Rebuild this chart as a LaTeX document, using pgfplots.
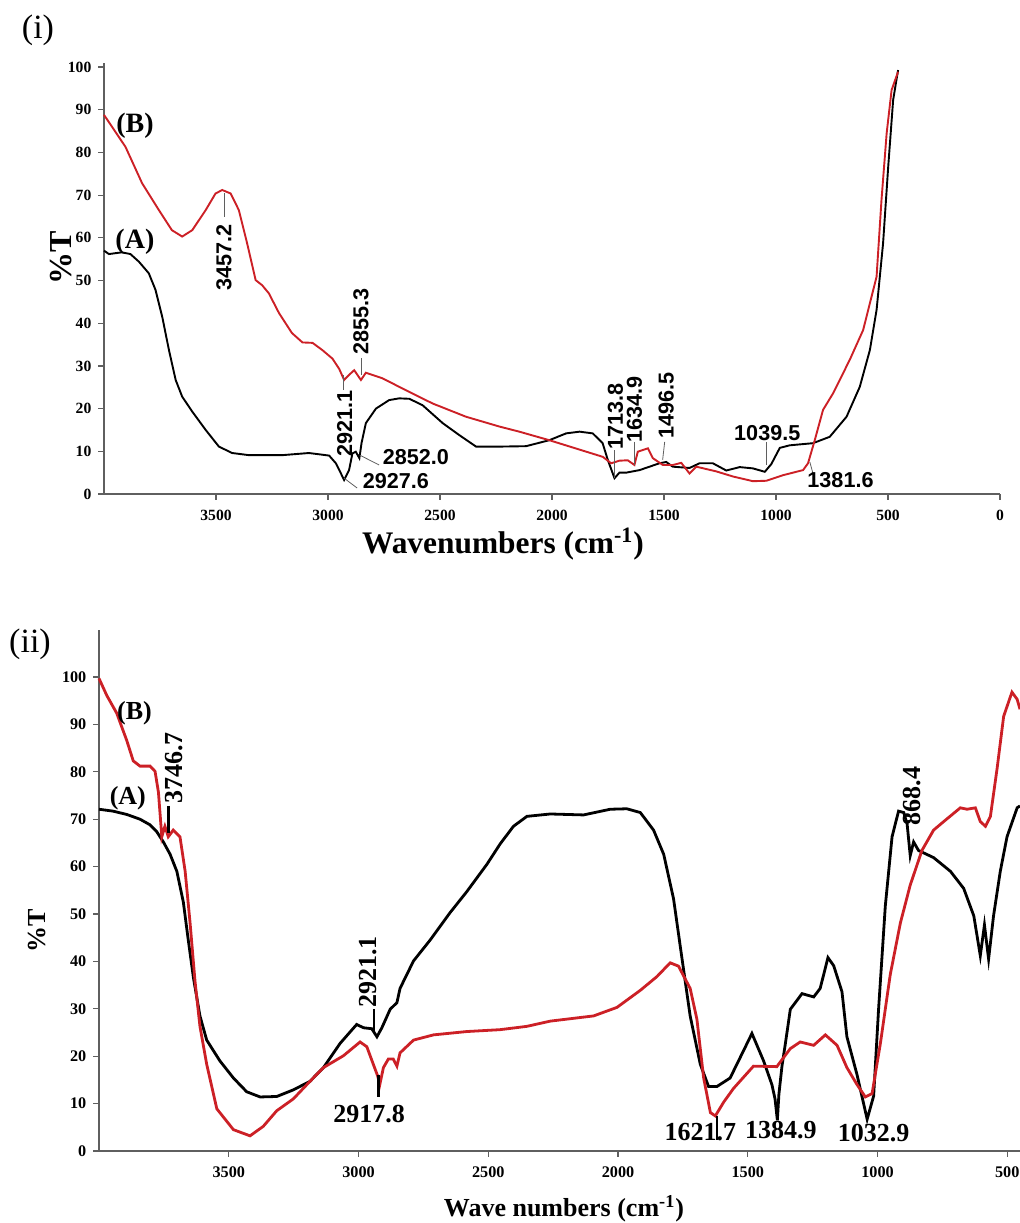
\documentclass[border=0pt]{standalone}
\usepackage{pgfplots}
\pgfplotsset{compat=1.18}
\usepackage{fontspec}
\setmainfont{Liberation Serif}
\newfontfamily\arialfont{Liberation Sans}
\definecolor{specred}{RGB}{204,32,38}
\definecolor{axisgray}{RGB}{95,95,95}

% spectra are plotted at -wavenumber so that the axis runs 4000 -> 0
\pgfplotsset{
  ftir/.style={
    scale only axis,
    axis lines=left,
    axis line style={-, axisgray, line width=0.7pt},
    tick style={axisgray, line width=0.6pt},
    tick align=outside,
    major tick length=2.8pt,
    x filter/.expression={-x},
    ymin=0, ytick={0,10,...,100},
    /pgf/number format/assume math mode=true,
    clip=false,
  },
}
\newcommand\annA{\arialfont\bfseries\fontsize{10.8}{12}\selectfont}
\newcommand\annB{\bfseries\fontsize{13}{15}\selectfont}

\begin{document}
\begin{tikzpicture}
\useasboundingbox (0,0) rectangle (510pt,611.5pt);

% ---------------- panel (i) ----------------
\begin{axis}[ftir,
  at={(52pt,364.5pt)}, anchor=south west,
  width=448pt, height=215.6pt,
  xmin=-4000, xmax=0, ymax=101,
  xtick={-3500,-3000,...,0},
  xticklabels={3500,3000,2500,2000,1500,1000,500,0},
  tick label style={font=\bfseries\fontsize{7.8}{9}\selectfont},
  xticklabel style={yshift=-1.5pt},
]
% (A) black
\addplot[black, line width=0.95pt] coordinates {
(4000,57.0)(3978,56.2)(3950,56.4)(3920,56.6)(3882,56.2)(3844,54.4)(3800,51.7)
(3770,47.8)(3740,41.5)(3710,33.7)(3680,26.7)(3651,22.8)(3606,19.3)(3546,15.0)
(3487,11.1)(3428,9.6)(3353,9.1)(3204,9.1)(3085,9.6)(2995,9.0)(2965,7.2)(2928,3.3)
(2906,5.6)(2891,9.5)(2876,9.9)(2860,8.4)(2850,12.0)(2831,16.6)(2786,20.0)
(2727,22.0)(2682,22.4)(2637,22.3)(2578,20.8)(2488,16.6)(2414,13.8)(2339,11.1)
(2235,11.1)(2116,11.2)(2012,12.6)(1937,14.2)(1877,14.6)(1818,14.2)(1774,11.9)
(1751,8.0)(1721,3.7)(1699,5.0)(1669,5.0)(1609,5.6)(1520,7.2)(1490,7.5)(1461,6.4)
(1386,6.1)(1341,7.2)(1282,7.2)(1222,5.5)(1162,6.3)(1103,6.0)(1050,5.2)(1021,7.0)
(983,10.8)(939,11.4)(835,11.9)(760,13.4)(685,18.1)(626,25.1)(581,33.7)(551,43.1)
(522,58.7)(499,76.7)(477,92.3)(455,99.3)
};
% (B) red
\addplot[specred, line width=0.95pt] coordinates {
(4000,88.8)(3964,86.0)(3904,81.3)(3830,72.8)(3755,66.5)(3697,61.8)(3651,60.3)
(3606,61.8)(3546,66.5)(3502,70.4)(3472,71.2)(3435,70.4)(3398,66.5)(3361,58.7)
(3323,50.1)(3294,48.9)(3264,47.0)(3219,42.4)(3161,37.7)(3114,35.5)(3069,35.4)
(3025,33.7)(2980,31.7)(2950,29.3)(2928,26.7)(2906,27.9)(2883,29.0)(2853,26.7)
(2831,28.4)(2757,27.1)(2682,25.1)(2533,21.2)(2384,18.1)(2235,15.8)(2146,14.6)
(2012,12.6)(1773,8.7)(1736,7.2)(1699,7.8)(1662,7.9)(1632,6.8)(1617,9.9)(1572,10.7)
(1550,8.4)(1505,6.8)(1460,6.8)(1423,7.3)(1386,4.8)(1356,6.4)(1267,5.3)(1192,4.1)
(1103,3.0)(1043,3.1)(969,4.4)(879,5.6)(857,7.2)(827,12.6)(790,19.7)(745,23.6)
(671,31.4)(611,38.4)(551,50.9)(529,68.9)(506,84.5)(484,94.6)(455,98.9)
};
\node[font=\bfseries\fontsize{14}{16}\selectfont] at (axis cs:-3862,86.3) {(B)};
\node[font=\bfseries\fontsize{14}{16}\selectfont] at (axis cs:-3862,59.1) {(A)};
\begin{scope}[axisgray, line width=0.4pt]
\draw (axis cs:-3464,70.5) -- (axis cs:-3464,64.9);
\draw (axis cs:-2853,27.9) -- (axis cs:-2853,31.9);
\draw (axis cs:-2931,27.9) -- (axis cs:-2931,24.4);
\draw (axis cs:-2858,9.1) -- (axis cs:-2772,6.8);
\draw (axis cs:-2928,3.7) -- (axis cs:-2870,1.4);
\draw (axis cs:-1721,10.3) -- (axis cs:-1721,3.7);
\draw (axis cs:-1632,12.2) -- (axis cs:-1632,6.8);
\draw (axis cs:-1497,12.2) -- (axis cs:-1506,8.0);
\draw (axis cs:-1043,12.2) -- (axis cs:-1043,6.8);
\draw (axis cs:-849,7.5) -- (axis cs:-827,3.3);
\end{scope}
\node[font=\annA, rotate=90] at (axis cs:-3464,55.3) {3457.2};
\node[font=\annA, rotate=90] at (axis cs:-2853,40.5) {2855.3};
\node[font=\annA, rotate=90] at (axis cs:-2925,16.6) {2921.1};
\node[font=\annA] at (axis cs:-2608,8.7) {2852.0};
\node[font=\annA] at (axis cs:-2697,3.0) {2927.6};
\node[font=\annA, rotate=90] at (axis cs:-1717,18.1) {1713.8};
\node[font=\annA, rotate=90] at (axis cs:-1632,19.7) {1634.9};
\node[font=\annA, rotate=90] at (axis cs:-1490,20.7) {1496.5};
\node[font=\annA] at (axis cs:-1039,14.2) {1039.5};
\node[font=\annA] at (axis cs:-712,3.3) {1381.6};
\end{axis}

% ---------------- panel (ii) ----------------
\begin{axis}[ftir,
  at={(49.5pt,36pt)}, anchor=south west,
  width=460.5pt, height=260.7pt,
  xmin=-4000, xmax=-451, ymax=110,
  xtick={-3500,-3000,...,-500},
  xticklabels={3500,3000,2500,2000,1500,1000,500},
  tick label style={font=\bfseries\fontsize{8.1}{9}\selectfont},
  xticklabel style={yshift=-1.5pt},
]
% (A) black
\addplot[black, line width=1.4pt] coordinates {
(4000,72.1)(3946,71.7)(3893,71.0)(3842,70.0)(3803,68.8)(3778,67.4)(3752,65.2)
(3726,62.6)(3700,59.0)(3675,52.5)(3656,44.5)(3636,36.5)(3611,28.5)(3585,23.4)
(3534,19.0)(3482,15.4)(3431,12.5)(3379,11.4)(3315,11.5)(3251,12.9)(3187,14.7)
(3135,17.6)(3071,22.7)(3007,26.7)(2981,26.0)(2949,25.8)(2929,24.1)(2910,26.0)
(2878,29.9)(2852,31.3)(2840,34.3)(2788,40.1)(2724,44.5)(2647,50.3)(2583,54.7)
(2505,60.5)(2454,64.8)(2403,68.5)(2351,70.6)(2261,71.1)(2133,70.9)(2030,72.1)
(1966,72.2)(1914,71.4)(1863,67.7)(1824,62.6)(1786,53.2)(1754,40.8)(1722,28.5)
(1683,18.3)(1651,13.6)(1619,13.6)(1568,15.4)(1516,21.2)(1484,24.8)(1439,19.0)
(1407,14.0)(1395,11.0)(1386,6.5)(1380,12.0)(1368,18.0)(1355,22.7)(1336,29.9)
(1291,33.2)(1246,32.5)(1221,34.3)(1191,40.8)(1169,39.1)(1137,33.6)(1118,24.1)
(1079,16.1)(1040,6.7)(1015,11.6)(996,29.9)(970,51.7)(944,66.3)(919,71.7)(899,71.4)
(886,69.0)(874,62.3)(861,65.2)(842,63.4)(784,61.9)(719,59.0)(668,55.4)(629,49.6)
(604,41.2)(588,47.7)(572,40.5)(553,49.6)(527,59.0)(501,66.3)(462,72.4)(451,72.8)
};
% (B) red
\addplot[specred, line width=1.4pt] coordinates {
(4000,99.7)(3970,96.1)(3932,92.4)(3893,86.6)(3868,82.3)(3842,81.2)(3803,81.2)
(3784,80.1)(3771,75.7)(3758,66.3)(3746,68.5)(3733,66.3)(3714,67.7)(3688,66.3)
(3668,59.0)(3649,48.1)(3630,35.8)(3611,26.3)(3585,18.3)(3546,8.9)(3482,4.5)
(3418,3.2)(3367,5.2)(3315,8.5)(3251,11.0)(3187,14.7)(3135,17.6)(3058,20.1)
(2994,23.0)(2968,22.0)(2943,18.3)(2926,15.8)(2918,14.0)(2904,17.6)(2885,19.4)
(2866,19.4)(2852,17.9)(2840,20.7)(2788,23.4)(2711,24.5)(2583,25.2)(2454,25.6)
(2351,26.3)(2261,27.4)(2094,28.5)(2004,30.3)(1914,33.9)(1850,36.8)(1799,39.7)
(1767,39.0)(1722,34.3)(1696,27.8)(1670,15.4)(1644,8.1)(1625,7.4)(1593,10.3)
(1555,13.2)(1478,17.9)(1388,17.8)(1336,21.6)(1298,23.0)(1246,22.3)(1201,24.5)
(1156,22.3)(1118,17.6)(1079,14.0)(1047,11.4)(1021,12.1)(989,22.7)(951,37.2)
(912,48.1)(874,56.1)(829,63.4)(784,67.7)(745,69.5)(681,72.4)(655,72.1)(623,72.4)
(604,69.5)(584,68.5)(565,70.6)(539,80.8)(514,91.7)(482,96.8)(462,95.3)(451,93.2)
};
\node[font=\annB] at (axis cs:-3863,92.3) {(B)};
\node[font=\annB] at (axis cs:-3889,74.5) {(A)};
\draw[black, line width=1.5pt] (axis cs:-3733,72.8) -- (axis cs:-3733,67.0);
\draw[black, line width=1pt] (axis cs:-2940,29.9) -- (axis cs:-2940,24.9);
\draw[black, line width=1.5pt] (axis cs:-2923,16.1) -- (axis cs:-2923,11.4);
\node[font=\annB, rotate=90] at (axis cs:-3711,80.8) {3746.7};
\node[font=\annB, rotate=90] at (axis cs:-2965,37.8) {2921.1};
\node[font=\annB] at (axis cs:-2959,7.8) {2917.8};
\node[font=\annB] at (axis cs:-1683,4.0) {1621.7};
\draw[black, line width=1.2pt] (axis cs:-1619,7.4) -- (axis cs:-1619,2.3);
\node[font=\annB] at (axis cs:-1372,4.5) {1384.9};
\node[font=\annB] at (axis cs:-1015,3.8) {1032.9};
\node[font=\annB, rotate=90] at (axis cs:-867,74.9) {868.4};
\end{axis}

% panel letters and axis titles
\node[font=\fontsize{17}{19}\selectfont] at (19pt,596.5pt) {(i)};
\node[font=\bfseries\fontsize{16}{18}\selectfont, rotate=90] at (30.5pt,482.5pt) {\%T};
\node[font=\bfseries\fontsize{15.7}{18}\selectfont] at (251.5pt,339.5pt) {Wavenumbers (cm\textsuperscript{-1})};
\node[font=\fontsize{17}{19}\selectfont] at (15pt,289.5pt) {(ii)};
\node[font=\bfseries\fontsize{13}{15}\selectfont, rotate=90] at (18.75pt,146.25pt) {\%T};
\node[font=\bfseries\fontsize{13}{15}\selectfont] at (282pt,7pt) {Wave numbers (cm\textsuperscript{-1})};
\end{tikzpicture}
\end{document}
